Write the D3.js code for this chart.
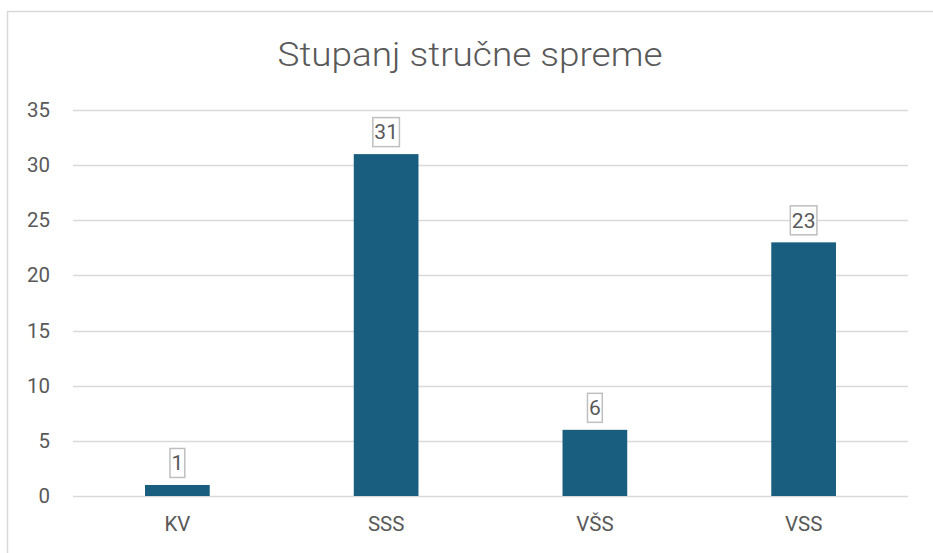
<!DOCTYPE html>
<html>
	<head>
		<title>Stupanj stručne spreme</title>
		<script src="https://cdn.jsdelivr.net/npm/d3@7/dist/d3.min.js"></script>
		<style type="text/css">
			body {
				margin: 0;
				background: #fff;
			}
			text {
				font-family: Roboto, "Noto Sans", sans-serif;
				fill: #595959;
			}
		</style>
	</head>
	<body>
		<script type="text/javascript">
			var categories = ["KV", "SSS", "VŠS", "VSS"];
			var values = [1, 31, 6, 23];
			var yTicks = [0, 5, 10, 15, 20, 25, 30, 35];

			var w = 933;
			var h = 553;
			var plotLeft = 73, plotRight = 908, plotTop = 110, plotBottom = 496;

			var svg = d3.select("body")
				.append("svg")
					.attr("width", w)
					.attr("height", h);

			// chart frame (cropped at right and bottom)
			svg.append("rect")
				.attr("x", 7.5)
				.attr("y", 11.5)
				.attr("width", w + 10)
				.attr("height", h + 10)
				.attr("fill", "#fff")
				.attr("stroke", "#d9d9d9")
				.attr("stroke-width", 1.5);

			svg.append("text")
				.attr("x", 470)
				.attr("y", 66)
				.attr("text-anchor", "middle")
				.attr("font-size", 34)
				.attr("font-weight", 300)
				.attr("textLength", 385)
				.attr("lengthAdjust", "spacingAndGlyphs")
				.text("Stupanj stručne spreme");

			var x = d3.scaleBand()
				.domain(categories)
				.range([plotLeft, plotRight])
				.paddingInner(0.69)
				.paddingOuter(0.345);

			var y = d3.scaleLinear()
				.domain([0, 35])
				.range([plotBottom, plotTop]);

			var grid = svg.append("g");
			grid.selectAll("line")
				.data(yTicks)
				.enter().append("line")
					.attr("x1", plotLeft)
					.attr("x2", plotRight)
					.attr("y1", function (d) { return Math.round(y(d)) + 0.5; })
					.attr("y2", function (d) { return Math.round(y(d)) + 0.5; })
					.attr("stroke", "#d9d9d9")
					.attr("stroke-width", 1.5);

			var yAxis = svg.append("g")
				.attr("transform", "translate(" + (plotLeft - 23) + ",0)")
				.call(d3.axisLeft(y).tickValues(yTicks).tickSize(0).tickPadding(0));
			yAxis.select(".domain").remove();
			yAxis.selectAll("text")
				.attr("font-size", 20.5)
				.attr("font-family", "Roboto, sans-serif")
				.attr("fill", "#595959");

			var xAxis = svg.append("g")
				.attr("transform", "translate(0," + plotBottom + ")")
				.call(d3.axisBottom(x).tickSize(0).tickPadding(20));
			xAxis.select(".domain").remove();
			xAxis.selectAll("text")
				.attr("font-size", 20.5)
				.attr("font-family", "Roboto, sans-serif")
				.attr("fill", "#595959");

			svg.selectAll("rect.bar")
				.data(values)
				.enter().append("rect")
					.attr("class", "bar")
					.attr("x", function (d, i) { return x(categories[i]); })
					.attr("y", function (d) { return y(d); })
					.attr("width", x.bandwidth())
					.attr("height", function (d) { return y(0) - y(d); })
					.attr("fill", "#195e7f");

			var labels = svg.selectAll("g.label")
				.data(values)
				.enter().append("g")
					.attr("class", "label")
					.attr("transform", function (d, i) {
						return "translate(" + (x(categories[i]) + x.bandwidth() / 2) + "," + (y(d) - 22) + ")";
					});

			labels.append("text")
				.attr("text-anchor", "middle")
				.attr("dy", "0.35em")
				.attr("font-size", 21)
				.text(function (d) { return d; });

			labels.insert("rect", "text")
				.attr("x", function () {
					var bw = this.parentNode.querySelector("text").getBBox().width;
					return -bw / 2 - 1.5;
				})
				.attr("y", -14.5)
				.attr("width", function () {
					return this.parentNode.querySelector("text").getBBox().width + 3;
				})
				.attr("height", 29)
				.attr("fill", "#fff")
				.attr("stroke", "#bfbfbf")
				.attr("stroke-width", 1.5);
		</script>
	</body>
</html>
